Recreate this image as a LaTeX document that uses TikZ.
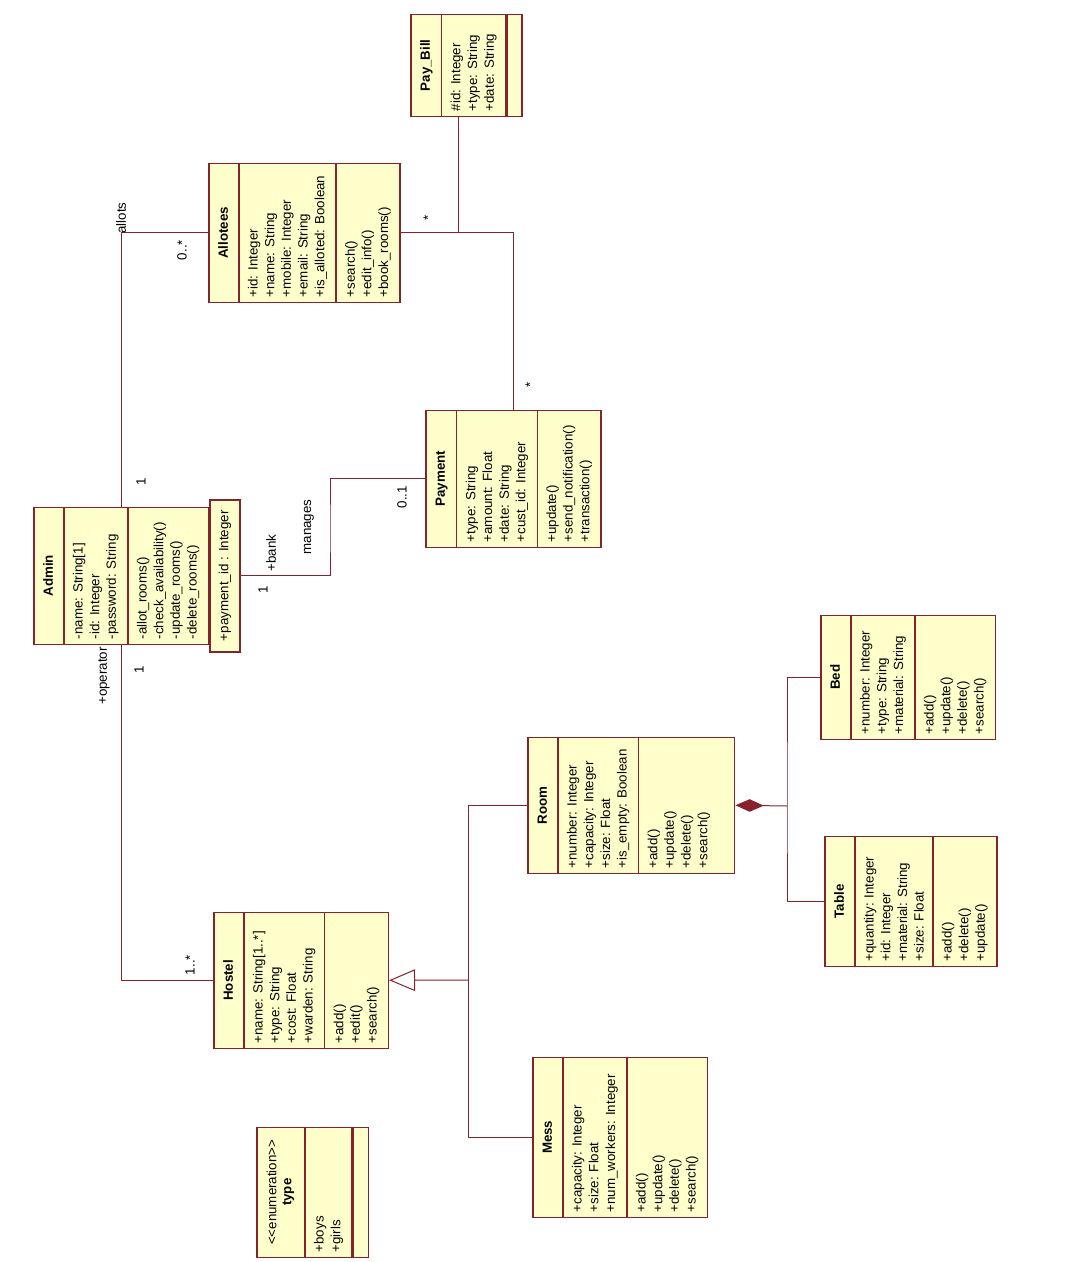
\documentclass[tikz,border=0pt]{standalone}
\usepackage{fontspec}
\setmainfont{Liberation Sans}
\usepackage{tikz}
\usetikzlibrary{arrows.meta,shapes.multipart}

\definecolor{umlfill}{RGB}{255,255,204}
\definecolor{umlline}{RGB}{135,35,45}
\newcommand{\clsname}[1]{\textbf{#1}\rule[-1.2pt]{0pt}{7.2pt}}
\renewcommand{\arraystretch}{0.9}

\begin{document}
\begin{tikzpicture}[x=0.6pt,y=-0.6pt,
    font=\fontsize{8}{10}\selectfont,
    umlclass/.style={rectangle split, rectangle split parts=3,
      rectangle split part align={center,left,left},
      draw=umlline, fill=umlfill, line width=0.9pt, align=left,
      inner xsep=3pt, inner ysep=5pt, rotate=90, anchor=north west},
    noops/.style={rectangle split parts=2},
    opsstrip/.style={draw=umlline, fill=umlfill, line width=0.9pt,
      minimum height=9pt, inner sep=0pt, rotate=90, anchor=north},
    qualbox/.style={draw=umlline, fill=umlfill, line width=0.9pt,
      minimum height=18pt, inner sep=2pt, rotate=90, anchor=north},
    assoc/.style={draw=umlline, line width=0.6pt},
    mult/.style={rotate=90, inner sep=1pt},
  ]
\useasboundingbox[fill=white] (0,0) rectangle (1080,1262);

\node[umlclass, minimum width=82.2pt] (admin) at (33,645)
  {\clsname{Admin}
   \nodepart{two} -name: String[1]\\ -id: Integer\\ -password: String
   \nodepart{three} -allot\_rooms()\\ -check\_availability()\\ -update\_rooms()\\ -delete\_rooms()};
\node[qualbox, minimum width=91.2pt] (qual) at (admin.south) {+payment\_id : Integer};

\node[umlclass, minimum width=83.4pt] (allotees) at (208,303)
  {\clsname{Allotees}
   \nodepart{two} +id: Integer\\ +name: String\\ +mobile: Integer\\ +email: String\\ +is\_alloted: Boolean
   \nodepart{three} +search()\\ +edit\_info()\\ +book\_rooms()};

\node[umlclass, noops, minimum width=61.2pt] (paybill) at (410,117)
  {\clsname{Pay\_Bill}
   \nodepart{two} \#id: Integer\\ +type: String\\ +date: String};
\node[opsstrip, minimum width=61.2pt] (paybillops) at (paybill.south) {};

\node[umlclass, minimum width=82.2pt] (payment) at (425,548)
  {\clsname{Payment}
   \nodepart{two} +type: String\\ +amount: Float\\ +date: String\\ +cust\_id: Integer
   \nodepart{three} +update()\\ +send\_notification()\\ +transaction()};

\node[umlclass, minimum width=81.6pt] (hostel) at (213,1049)
  {\clsname{Hostel}
   \nodepart{two} +name: String[1..*]\\ +type: String\\ +cost: Float\\ +warden: String
   \nodepart{three} +add()\\ +edit()\\ +search()};

\node[umlclass, minimum width=81.6pt] (room) at (527,874)
  {\clsname{Room}
   \nodepart{two} +number: Integer\\ +capacity: Integer\\ +size: Float\\ +is\_empty: Boolean
   \nodepart{three} +add()\\ +update()\\ +delete()\\ +search()\rule[-11pt]{0pt}{11pt}};

\node[umlclass, minimum width=74.4pt] (bed) at (820,740)
  {\clsname{Bed}
   \nodepart{two} +number: Integer\\ +type: String\\ +material: String
   \nodepart{three} +add()\\ +update()\\ +delete()\\ +search()};

\node[umlclass, minimum width=78pt] (table) at (824,967)
  {\clsname{Table}
   \nodepart{two} +quantity: Integer\\ +id: Integer\\ +material: String\\ +size: Float
   \nodepart{three} +add()\\ +delete()\\ +update()};

\node[umlclass, minimum width=96pt] (mess) at (532,1218)
  {\clsname{Mess}
   \nodepart{two} +capacity: Integer\\ +size: Float\\ +num\_workers: Integer
   \nodepart{three} +add()\\ +update()\\ +delete()\\ +search()};

\node[umlclass, noops, minimum width=78pt] (enumtype) at (256,1258)
  {\begin{tabular}{@{}c@{}}\textless\kern0pt\textless\kern0pt enumeration\textgreater\kern0pt\textgreater\\ \textbf{type}\end{tabular}
   \nodepart{two} +boys\\ +girls};
\node[opsstrip, minimum width=78pt] (enumtypeops) at (enumtype.south) {};

% associations
\draw[assoc] (admin.east) |- (allotees.north);
\draw[assoc] (admin.west) |- (hostel.north);
\coordinate (mgbend) at (330,530);
\draw[assoc] (qual.south) -| (mgbend) |- (payment.north);
\draw[assoc] (allotees.south) -| (payment.east);
\draw[assoc] (paybill.west) -- (paybill.west |- allotees.south);

% generalization and composition
\coordinate (gx) at (468,980);
\draw[assoc] (room.north) -| (gx);
\draw[assoc] (mess.north) -| (gx);
\draw[assoc, -{Triangle[open,length=15.5pt,width=13pt]}] (gx) -- (hostel.south);
\coordinate (cx) at (787,806);
\draw[assoc] (bed.north) -| (cx) |- (table.north);
\draw[assoc, -{Diamond[length=17pt,width=7.5pt]}] (cx) -- (room.south);

% multiplicities and roles
\node[mult] (m1) at (141,482) {1};
\node[mult] (allots) at (121,218) {allots};
\node[mult] (m2) at (182,250) {0..*};
\node[mult] (oper) at (104,676) {+operator};
\node[mult] (m3) at (139,670) {1};
\node[mult] (m4) at (190,965) {1..*};
\node[mult] (bank) at (271,553) {+bank};
\node[mult] (m5) at (263,590) {1};
\node[mult] (manages) at (309,527) {manages};
\node[mult] (m6) at (402,497) {0..1};
\node[mult] (m7) at (428,218) {*};
\node[mult] (m8) at (530,385) {*};
\end{tikzpicture}
\end{document}
